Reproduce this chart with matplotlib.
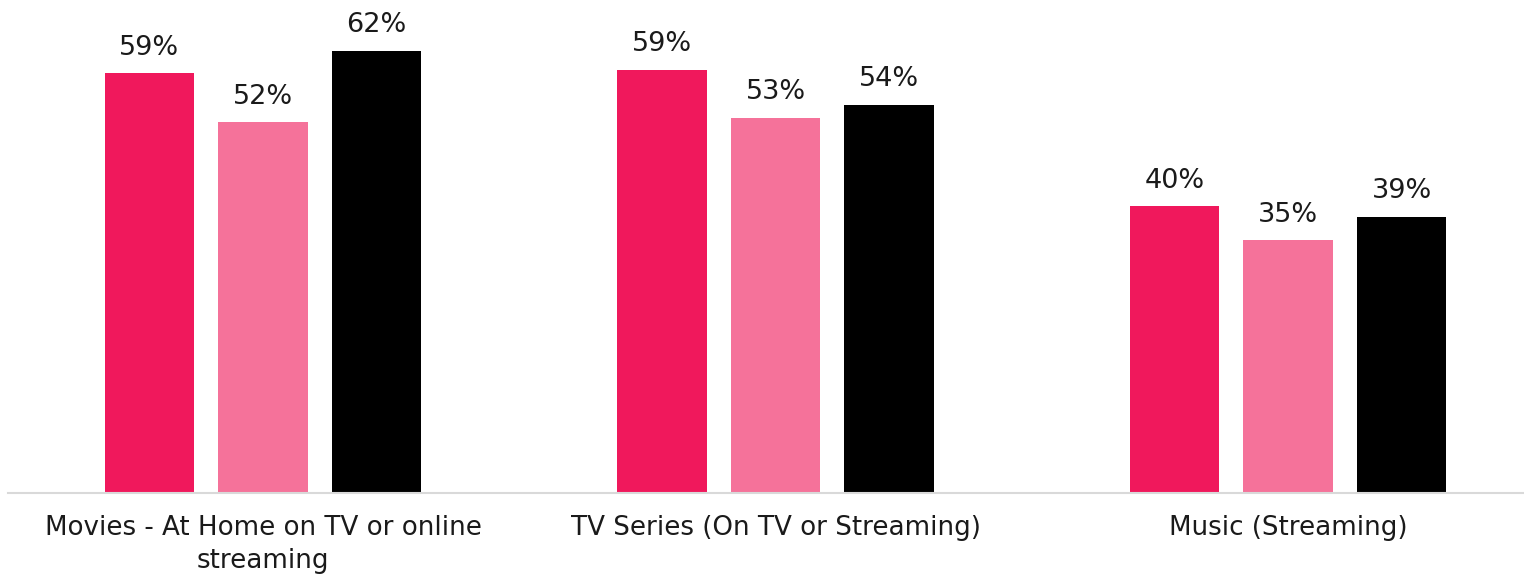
import matplotlib
matplotlib.use('Agg')
import matplotlib.pyplot as plt
import numpy as np

categories = ['Movies - At Home on TV or online\nstreaming',
              'TV Series (On TV or Streaming)',
              'Music (Streaming)']
series_a = [58.8, 59.3, 40.2]
series_b = [52.0, 52.6, 35.4]
series_c = [62.0, 54.4, 38.7]
colors = ['#F0185C', '#F5729A', '#000000']

plt.rcParams['font.family'] = ['DejaVu Sans']

fig = plt.figure(figsize=(15.24, 5.74), dpi=100)
ax = fig.add_axes([8 / 1524, 1 - 493 / 574, 1 - 8 / 1524, 493 / 574])

x = np.arange(len(categories))
width = 0.174
step = 0.2215
for i, vals in enumerate([series_a, series_b, series_c]):
    pos = x + (i - 1) * step
    ax.bar(pos, vals, width=width, color=colors[i])
    for xx, v in zip(pos, vals):
        ax.annotate(f'{v:.0f}%', (xx, v), xytext=(0, 9), textcoords='offset points',
                    ha='center', va='bottom', fontsize=19.5, color='#1a1a1a')

ax.set_xlim(-0.4976, 2.4605)
ax.set_ylim(0, 69.1)
ax.set_xticks(x)
ax.set_xticklabels(categories, fontsize=18.8, color='#1a1a1a', linespacing=1.35)
ax.tick_params(axis='x', length=0, pad=16)
ax.set_yticks([])
for s in ['top', 'right', 'left']:
    ax.spines[s].set_visible(False)
ax.spines['bottom'].set_color('#d9d9d9')
ax.spines['bottom'].set_linewidth(1.5)

fig.savefig('out.png', dpi=100)
